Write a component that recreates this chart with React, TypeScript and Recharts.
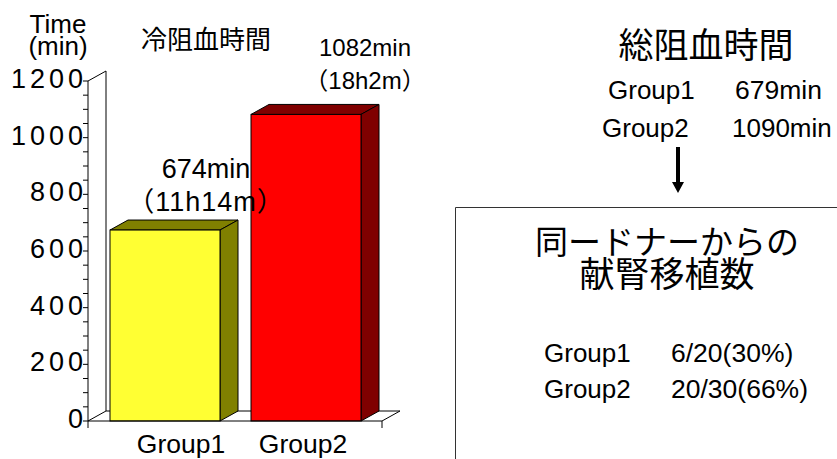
import { BarChart, Bar, XAxis, YAxis, usePlotArea } from 'recharts';

const groups = ['Group1', 'Group2'];
const coldIschemia = [674, 1082];
const yTicks = [0, 50, 100, 150, 200, 250, 300, 350, 400, 450, 500, 550, 600, 650, 700, 750, 800, 850, 900, 950, 1000, 1050, 1100, 1150, 1200];
const labelledTicks = [0, 200, 400, 600, 800, 1000, 1200];
const barFronts = ['#ffff33', '#ff0000'];
const barSides = ['#808000', '#7f0000'];
const totalIschemia = ['679min', '1090min'];
const transplants = ['6/20(30%)', '20/30(66%)'];

const data = groups.map((g, i) => ({ group: g, minutes: coldIschemia[i] }));

const SANS = '"Liberation Sans", "Noto Sans CJK JP", sans-serif';
const CJK = '"Noto Sans CJK JP", sans-serif';
const DX = 18;
const DY = 10;

function Bar3D(props: any) {
  const { x, y, width, height, index } = props;
  const r = x + width;
  const b = y + height;
  return (
    <g stroke="#000" strokeWidth={1}>
      <path d={`M${x},${y}L${x + DX},${y - DY}L${r + DX},${y - DY}L${r},${y}Z`} fill={barSides[index]} />
      <path d={`M${r},${y}L${r + DX},${y - DY}L${r + DX},${b - DY}L${r},${b}Z`} fill={barSides[index]} />
      <rect x={x} y={y} width={width} height={height} fill={barFronts[index]} />
    </g>
  );
}

function YTick(props: any) {
  const { y, payload } = props;
  if (!labelledTicks.includes(payload.value)) return null;
  return (
    <text x={87} y={y + 7} textAnchor="end" fontFamily={SANS} fontSize={27} letterSpacing={4} fill="#000">
      {payload.value}
    </text>
  );
}

function XTick(props: any) {
  const { payload } = props;
  return (
    <text x={[181, 303][payload.index]} y={453} textAnchor="middle" fontFamily={SANS} fontSize={26.5} fill="#000">
      {payload.value}
    </text>
  );
}

// side wall and floor of the fake 3D box
function Frame() {
  const area = usePlotArea();
  if (!area) return null;
  const l = area.x;
  const r = area.x + area.width;
  const t = area.y;
  const b = area.y + area.height;
  return (
    <g fill="none" stroke="#000" strokeWidth={1}>
      <path d={`M${l},${t}L${l + DX},${t - DY}L${l + DX},${b - DY}L${l},${b}`} />
      <path d={`M${l + DX},${b - DY}L${r + DX},${b - DY}L${r},${b}`} />
      <path d={`M${l},${b}V${b + 7}M${r},${b}V${b + 7}`} />
    </g>
  );
}

// separate svg on top, the bars would cover the 674min note otherwise
function Notes() {
  return (
    <svg width={837} height={459} style={{ position: 'absolute', left: 0, top: 0, pointerEvents: 'none' }}>
      <g fill="#000" fontFamily={SANS}>
        <text x={58} y={33} fontSize={26} textAnchor="middle">Time</text>
        <text x={58} y={55} fontSize={26} textAnchor="middle">(min)</text>
        <text x={206} y={49} fontSize={26} textAnchor="middle">冷阻血時間</text>
        <text x={365} y={56} fontSize={24} textAnchor="middle">1082min</text>
        <text x={365} y={89} fontSize={24} textAnchor="middle">（18h2m）</text>
        <text x={206} y={178} fontSize={27} textAnchor="middle">674min</text>
        <text x={206} y={211} fontSize={27} letterSpacing={1} textAnchor="middle">（11h14m）</text>

        <text x={706} y={58} fontSize={35} textAnchor="middle">総阻血時間</text>
        <text x={608} y={99} fontSize={26}>{groups[0]}</text>
        <text x={735} y={99} fontSize={26.5}>{totalIschemia[0]}</text>
        <text x={602} y={137} fontSize={26}>{groups[1]}</text>
        <text x={732} y={137} fontSize={26}>{totalIschemia[1]}</text>

        <path d="M676,147H680V182H684L678,193L672,182H676Z" />

        <path d="M837,207.5H455.5V459" fill="none" stroke="#333" strokeWidth={1} />
        <text x={667} y={254} fontSize={33} fontFamily={CJK} textAnchor="middle">同ードナーからの</text>
        <text x={667} y={287} fontSize={35} fontFamily={CJK} textAnchor="middle">献腎移植数</text>
        <text x={544} y={362} fontSize={26}>{groups[0]}</text>
        <text x={671} y={362} fontSize={26.5}>{transplants[0]}</text>
        <text x={544} y={398} fontSize={26}>{groups[1]}</text>
        <text x={671} y={398} fontSize={26.5}>{transplants[1]}</text>
      </g>
    </svg>
  );
}

export default function App() {
  return (
    <div style={{ position: 'absolute', left: 0, top: 0, width: 837, height: 459, background: '#fff' }}>
      <BarChart width={837} height={459} data={data} barSize={110} margin={{ top: 81, right: 455, bottom: 0, left: 0 }}>
        <Frame />
        <XAxis
          dataKey="group"
          height={38}
          padding={{ left: 6, right: 6 }}
          tickLine={false}
          tick={<XTick />}
          axisLine={{ stroke: '#000' }}
        />
        <YAxis
          width={88}
          domain={[0, 1200]}
          ticks={yTicks}
          interval={0}
          tickSize={5}
          tick={<YTick />}
          tickLine={{ stroke: '#000' }}
          axisLine={{ stroke: '#000' }}
        />
        <Bar dataKey="minutes" shape={<Bar3D />} isAnimationActive={false} />
      </BarChart>
      <Notes />
    </div>
  );
}
